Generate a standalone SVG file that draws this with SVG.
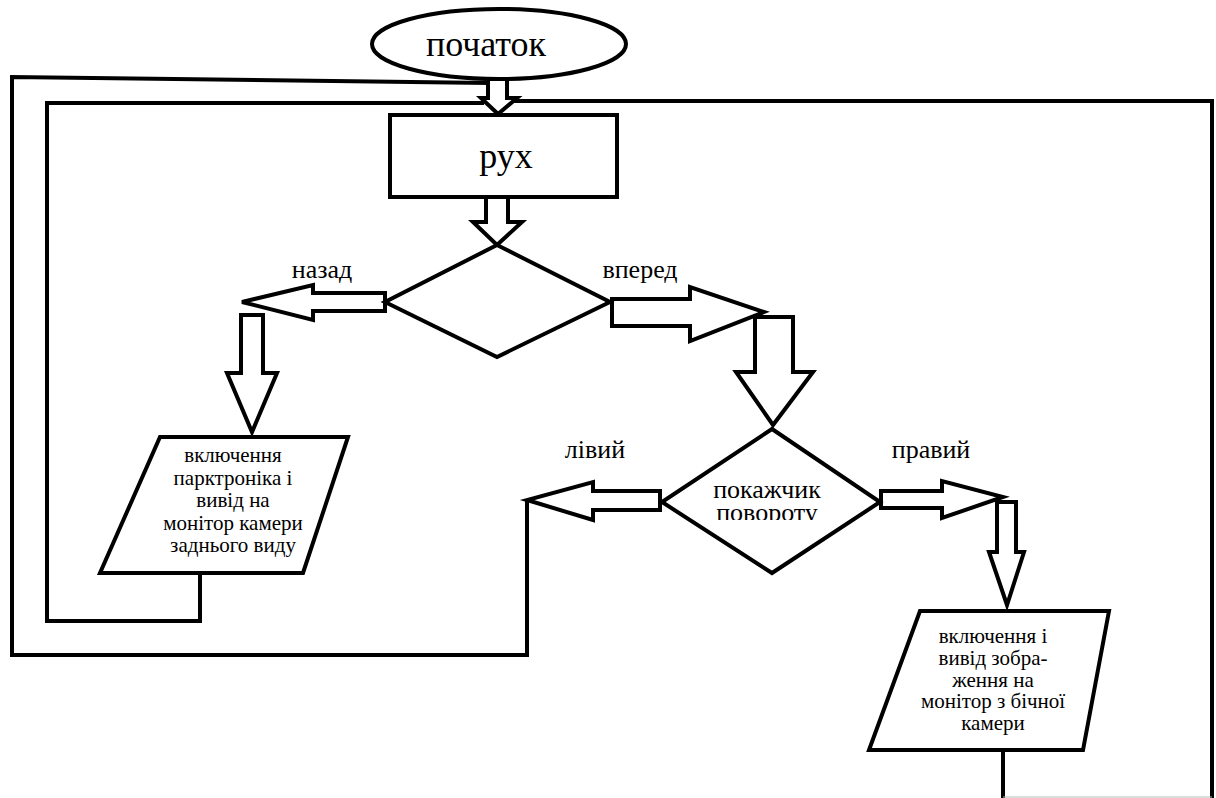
<svg xmlns="http://www.w3.org/2000/svg" width="1216" height="798" viewBox="0 0 1216 798">
<style>
.s{fill:#fff;stroke:#000;stroke-width:4;stroke-linejoin:miter}
.l{fill:none;stroke:#000;stroke-width:4}
.a{fill:#fff;stroke:#000;stroke-width:4;stroke-linejoin:miter}
text{font-family:"Liberation Serif","Times New Roman",serif;fill:#000;text-anchor:middle}
.lb{font-size:26px}
.pt{font-size:21px}
</style>
<defs>
<clipPath id="clipTurn"><rect x="650" y="470" width="240" height="50"/></clipPath>
</defs>
<rect width="1216" height="798" fill="#fff"/>
<g id="connectors">
<polyline class="l" points="527,500 527,655 12,655 12,77 490,83"/>
<polyline class="l" points="200,573 200,621 47,621 47,103 484,103"/>
<polyline class="l" points="514,101 1212,101 1212,798"/>
<line class="l" x1="1003" y1="750" x2="1003" y2="798"/>
<line x1="1003" y1="797" x2="1212" y2="797" stroke="#bbb" stroke-width="1"/>
<polygon class="a" points="488,79 507,79 507,98 517,98 498,114 481,98 488,98"/>
<polygon class="a" points="486,197 508,197 508,222 522,222 497,245 473,222 486,222"/>
<polygon class="a" points="385,293 313,293 313,285 242,302 313,320 313,311 385,311"/>
<polygon class="a" points="241,315 263,315 263,373 277,373 252,432 227,373 241,373"/>
<polygon class="a" points="612,299 690,299 690,287 764,312 690,341 690,326 612,326"/>
<polygon class="a" points="755,317 793,317 793,372 813,372 773,425 736,372 755,372"/>
<polygon class="a" points="660,491 593,491 593,482 527,500 593,520 593,510 660,510"/>
<polygon class="a" points="881,491 942,491 942,481 1003,497 942,518 942,508 881,508"/>
<polygon class="a" points="997,502 1016,502 1016,552 1024,552 1007,605 989,552 997,552"/>
<text class="lb" x="322" y="278">назад</text>
<text class="lb" x="640" y="278">вперед</text>
<text class="lb" x="595" y="458">лівий</text>
<text class="lb" x="931" y="458">правий</text>
</g>
<g id="start">
<ellipse class="s" cx="499" cy="44" rx="127" ry="35"/>
<text x="486" y="56" style="font-size:36px">початок</text>
</g>
<g id="move">
<rect class="s" x="390" y="115" width="227" height="82"/>
<text x="506" y="168" style="font-size:36px">рух</text>
</g>
<g id="direction">
<polygon class="s" points="497,245 610,302 497,357 385,302"/>
</g>
<g id="reverse">
<polygon class="s" points="160,437 348,437 303,573 100,573"/>
<text class="pt" x="233" y="462">включення</text>
<text class="pt" x="233" y="485">парктроніка і</text>
<text class="pt" x="233" y="507">вивід на</text>
<text class="pt" x="233" y="530">монітор камери</text>
<text class="pt" x="233" y="552">заднього виду</text>
</g>
<g id="turn">
<polygon class="s" points="772,429 880,502 772,573 662,502"/>
<text class="lb" x="767" y="498">покажчик</text>
<text class="lb" x="767" y="521" clip-path="url(#clipTurn)">повороту</text>
</g>
<g id="side">
<polygon class="s" points="920,611 1109,611 1083,750 869,750"/>
<text class="pt" x="993" y="643">включення і</text>
<text class="pt" x="993" y="665">вивід зобра-</text>
<text class="pt" x="993" y="687">ження на</text>
<text class="pt" x="993" y="708">монітор з бічної</text>
<text class="pt" x="993" y="730">камери</text>
</g>
</svg>
